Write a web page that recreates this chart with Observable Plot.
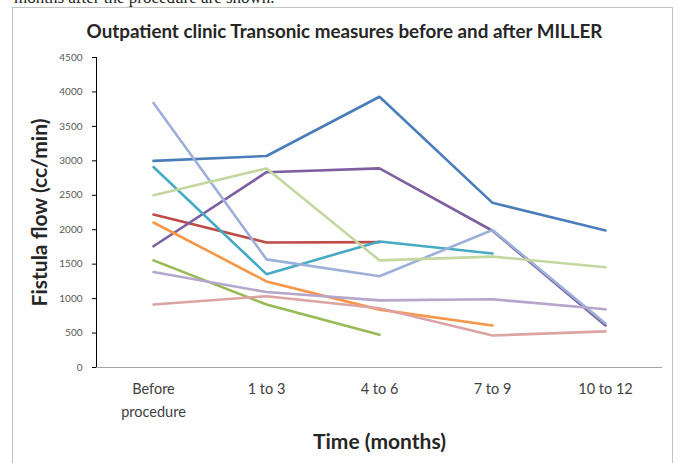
<!DOCTYPE html>
<html><head><meta charset="utf-8">
<script src="https://cdn.jsdelivr.net/npm/d3@7"></script>
<script src="https://cdn.jsdelivr.net/npm/@observablehq/plot@0.6"></script>
<style>
body{margin:0;background:#fff;}
#wrap{position:relative;width:678px;height:463px;overflow:hidden;font-family:Lato,"Open Sans",sans-serif;}
#top{position:absolute;left:14px;top:-11px;font-family:"Liberation Serif",serif;font-size:17px;line-height:17px;color:#222;white-space:nowrap;}
#box{position:absolute;left:12px;top:7px;width:661px;height:480px;border:1px solid #c4c4c4;box-sizing:border-box;}
#chart svg{position:absolute;left:0;top:0;}
</style>
</head><body>
<div id="wrap">
  <div id="top">months after the procedure are shown.</div>
  <div id="box"></div>
  <div id="chart"></div>
</div>
<script>
const chartTitle = "Outpatient clinic Transonic measures before and after MILLER";
const yTitle = "Fistula flow (cc/min)";
const xTitle = "Time (months)";
const periods = ["Before\nprocedure", "1 to 3", "4 to 6", "7 to 9", "10 to 12"];
const yTicks = [0, 500, 1000, 1500, 2000, 2500, 3000, 3500, 4000, 4500];

const patientA = [3000, 3070, 3930, 2390, 1990];   // blue
const patientB = [2220, 1815, 1820, null, null];   // red
const patientC = [1555, 915, 475, null, null];     // green
const patientD = [1760, 2835, 2890, 1985, 610];    // purple
const patientE = [2910, 1355, 1830, 1655, null];   // aqua
const patientF = [2105, 1250, 840, 610, null];     // orange
const patientG = [3840, 1570, 1325, 1995, 640];    // light blue
const patientH = [915, 1035, 860, 465, 525];       // light red
const patientI = [2500, 2890, 1555, 1610, 1455];   // light green
const patientJ = [1385, 1095, 975, 990, 845];      // light purple

const seriesNames = ["A","B","C","D","E","F","G","H","I","J"];
const seriesValues = [patientA, patientB, patientC, patientD, patientE, patientF, patientG, patientH, patientI, patientJ];
const seriesColors = ["#4a7ebb","#be4b48","#98b954","#7d60a0","#46aac5","#f79646","#9cb0da","#dca3a2","#c4d79f","#b5a6cb"];

const rows = [];
seriesValues.forEach((vals, i) => {
  vals.forEach((v, j) => {
    if (v != null) rows.push({series: seriesNames[i], period: periods[j], value: v});
  });
});

const plot = Plot.plot({
  width: 678,
  height: 463,
  marginTop: 57,
  marginBottom: 96,
  marginLeft: 96,
  marginRight: 16,
  style: {background: "transparent", fontFamily: "Lato, sans-serif"},
  x: {type: "point", domain: periods, padding: 0.5, axis: null},
  y: {domain: [0, 4500], ticks: yTicks, tickSize: 4, tickPadding: 10, tickFormat: d => String(d), label: null, line: true, fontSize: 9},
  color: {domain: seriesNames, range: seriesColors},
  marks: [
    Plot.ruleY([0], {stroke: "#a6a6a6", strokeWidth: 1}),
    Plot.line(rows, {x: "period", y: "value", z: "series", stroke: "series", strokeWidth: 2.6, strokeLinejoin: "miter"}),
    Plot.text(periods, {x: d => d, y: () => 0, dy: 11, lineAnchor: "top", fontSize: 14.5, fill: "#404040", lineHeight: 1.55}),
    Plot.text([chartTitle], {frameAnchor: "top", textAnchor: "middle", dx: -35, dy: -26, text: d => d, fontSize: 18.8, fontWeight: "bold", fill: "#262626", lineAnchor: "middle", style: "word-spacing:2px"}),
    Plot.text([yTitle], {frameAnchor: "left", textAnchor: "middle", dx: -56, rotate: -90, text: d => d, fontSize: 21, fontWeight: "bold", fill: "#262626", lineAnchor: "middle"}),
    Plot.text([xTitle], {frameAnchor: "bottom", textAnchor: "middle", dy: 75, text: d => d, fontSize: 21, fontWeight: "bold", fill: "#262626", lineAnchor: "middle"})
  ]
});
plot.querySelectorAll("g[aria-label='y-axis'] text, g[aria-label='y-axis tick label'] text").forEach(t => t.setAttribute("fill", "#595959"));
document.getElementById("chart").appendChild(plot);
</script>
</body></html>
